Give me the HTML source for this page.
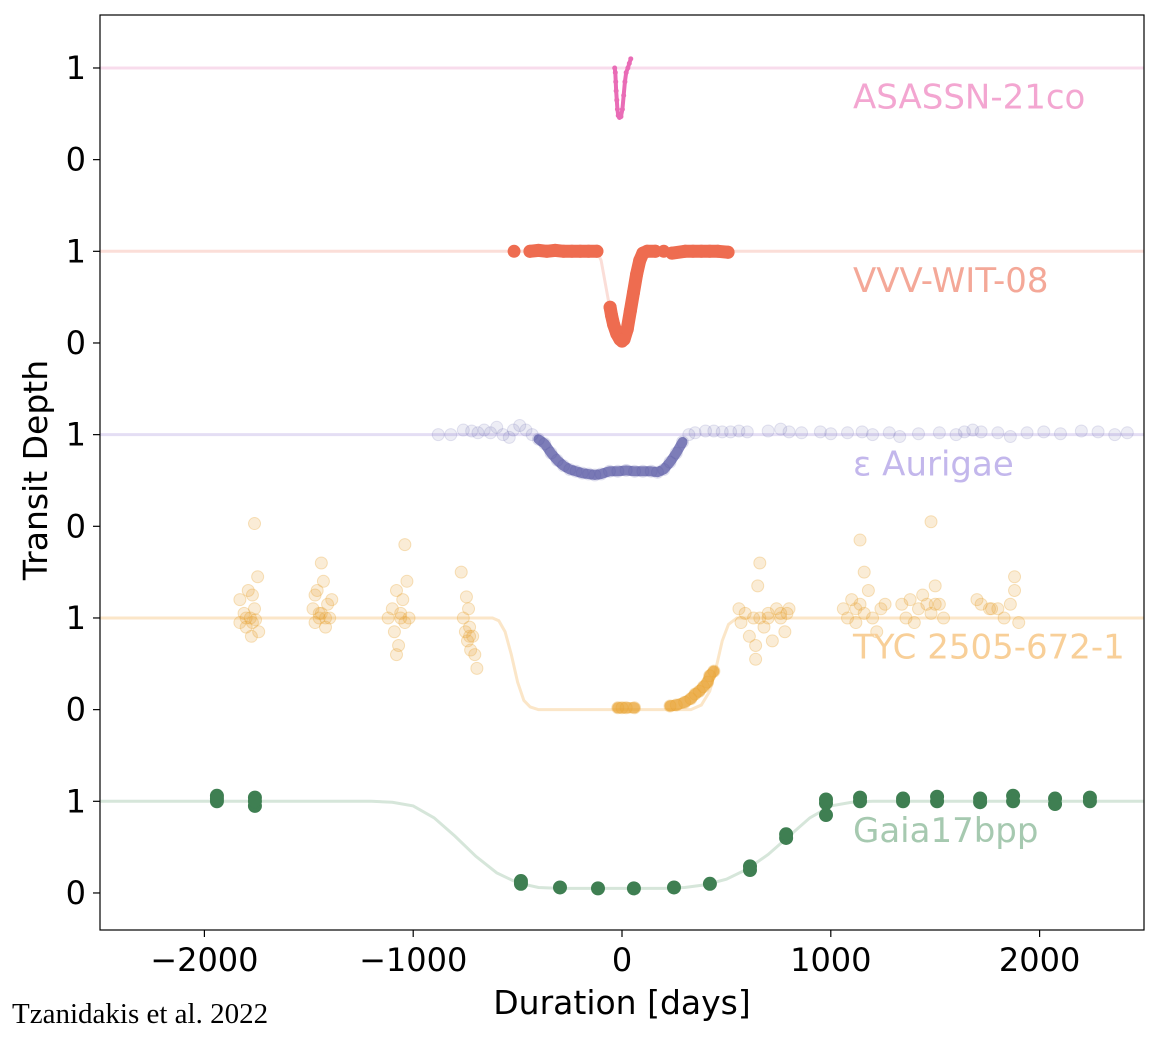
<!DOCTYPE html>
<html><head><meta charset="utf-8"><style>
body{margin:0;background:#fff;}
svg{display:block;font-family:"DejaVu Sans","Liberation Sans",sans-serif;}
</style></head><body>
<svg id="chart" width="1160" height="1040" viewBox="0 0 1160 1040"></svg>
<script>
const xTicks=[-2000,-1000,0,1000,2000];
const xTickLabels=["\u22122000","\u22121000","0","1000","2000"];
const yTickValues=[0,1,2,3,4,5,6,7,8,9];
const yTickLabels=["0","1","0","1","0","1","0","1","0","1"];
const seriesNames=["Gaia17bpp","TYC 2505-672-1","\u03b5 Aurigae","VVV-WIT-08","ASASSN-21co"];
const seriesOffsets=[0,2,4,6,8];
// Gaia17bpp
const gaiaPoints=[[-1940,1.06],[-1940,1.0],[-1940,1.03],[-1758,1.04],[-1758,0.95],[-1758,1.0],[-484,0.13],[-484,0.1],[-297,0.06],[-115,0.05],[57,0.05],[249,0.06],[421,0.1],[613,0.25],[613,0.29],[786,0.6],[786,0.64],[977,0.98],[977,0.85],[977,1.02],[1140,1.04],[1140,1.0],[1346,1.03],[1346,1.0],[1509,1.05],[1509,1.0],[1715,1.03],[1715,0.99],[1873,1.06],[1873,1.0],[2074,1.03],[2074,0.97],[2241,1.04],[2241,1.0]];
const gaiaModel=[[-2500,1],[-1200,1],[-1100,0.99],[-1000,0.95],[-900,0.82],[-800,0.62],[-700,0.4],[-600,0.22],[-500,0.11],[-400,0.06],[-300,0.05],[200,0.05],[300,0.06],[400,0.09],[500,0.15],[600,0.26],[700,0.42],[800,0.62],[900,0.82],[1000,0.95],[1100,0.99],[1200,1],[2500,1]];
// TYC 2505-672-1
const tycPoints=[[-1830,1.2],[-1830,0.95],[-1810,1.05],[-1800,0.9],[-1790,1.3],[-1780,1.0],[-1775,0.8],[-1760,1.1],[-1755,0.98],[-1745,1.45],[-1740,0.85],[-1770,1.25],[-1760,2.03],[-1800,1.0],[-1770,0.95],[-1480,1.1],[-1470,0.95],[-1460,1.3],[-1450,1.0],[-1440,1.05],[-1430,1.4],[-1420,0.9],[-1410,1.15],[-1400,1.0],[-1390,1.2],[-1440,1.6],[-1470,1.25],[-1450,1.05],[-1420,1.0],[-1120,1.0],[-1100,1.1],[-1090,0.85],[-1080,1.3],[-1070,0.7],[-1060,1.05],[-1050,1.2],[-1040,0.95],[-1030,1.4],[-1020,1.0],[-1080,0.6],[-1040,1.8],[-1060,1.0],[-760,1.0],[-750,0.85],[-740,0.75],[-735,1.1],[-730,0.9],[-725,0.65],[-715,0.8],[-705,0.6],[-695,0.45],[-770,1.5],[-745,1.23],[-730,0.8],[-20,0.02],[0,0.02],[20,0.02],[60,0.02],[230,0.04],[260,0.05],[300,0.08],[330,0.12],[350,0.17],[370,0.2],[390,0.25],[410,0.3],[420,0.37],[440,0.42],[560,1.1],[570,0.95],[590,1.05],[610,0.8],[630,1.0],[640,0.7],[650,1.35],[660,1.0],[680,0.9],[700,1.05],[720,0.75],[740,1.1],[760,1.0],[780,0.85],[790,1.05],[800,1.1],[640,0.55],[660,1.6],[700,1.0],[760,1.05],[1060,1.1],[1080,1.0],[1100,1.2],[1120,0.95],[1140,1.15],[1160,1.05],[1180,1.3],[1200,1.0],[1220,0.85],[1240,1.1],[1260,1.15],[1160,1.5],[1140,1.85],[1120,1.1],[1340,1.15],[1360,1.0],[1380,1.2],[1400,0.95],[1420,1.1],[1440,1.25],[1460,1.15],[1480,1.05],[1500,1.35],[1520,1.15],[1540,1.0],[1480,2.05],[1500,1.15],[1700,1.2],[1720,1.15],[1760,1.1],[1800,1.1],[1830,1.0],[1860,1.15],[1880,1.3],[1900,0.95],[1880,1.45],[1770,1.1]];
const tycModel=[[-2500,1],[-620,1],[-590,0.97],[-560,0.85],[-530,0.6],[-500,0.3],[-470,0.1],[-440,0.03],[-400,0],[330,0],[380,0.05],[420,0.2],[450,0.45],[480,0.75],[510,0.93],[550,1],[2500,1]];
// epsilon Aurigae
const epsPoints=[[-880,1.0],[-820,1.0],[-760,1.05],[-720,1.04],[-690,1.02],[-660,1.05],[-630,1.02],[-600,1.08],[-570,1.0],[-540,0.97],[-520,1.05],[-490,1.1],[-460,1.05],[-430,1.0],[-400,0.95],[-370,0.9],[-340,0.8],[-310,0.72],[-280,0.66],[-250,0.62],[-220,0.6],[-190,0.58],[-160,0.57],[-130,0.56],[-100,0.57],[-60,0.6],[-20,0.6],[20,0.61],[60,0.6],[100,0.6],[140,0.6],[170,0.59],[200,0.62],[230,0.7],[260,0.8],[290,0.92],[320,1.0],[350,1.02],[400,1.04],[440,1.04],[480,1.03],[520,1.03],[560,1.04],[600,1.03],[700,1.04],[760,1.06],[800,1.03],[860,1.02],[950,1.03],[1000,1.01],[1080,1.02],[1150,1.03],[1200,1.0],[1280,1.02],[1330,0.98],[1420,1.01],[1520,1.02],[1600,1.0],[1640,1.03],[1680,1.05],[1720,1.03],[1800,1.02],[1860,0.98],[1940,1.02],[2020,1.03],[2100,1.01],[2200,1.04],[2280,1.03],[2360,1.0],[2420,1.02]];
const epsModel=[[-2500,1],[2500,1]];
// VVV-WIT-08
const vvvPoints=[[-517,1.0],[-441,1.0],[-400,1.01],[-360,1.0],[-320,1.01],[-280,1.0],[-240,1.0],[-200,1.0],[-160,1.0],[-120,1.0],[-57,0.39],[-50,0.3],[-40,0.2],[-25,0.1],[-10,0.04],[0,0.02],[10,0.04],[25,0.15],[40,0.35],[55,0.55],[70,0.75],[85,0.9],[100,0.98],[120,1.0],[160,1.0],[200,1.0],[239,0.98],[302,1.0],[340,1.0],[380,1.0],[420,1.0],[460,1.0],[508,0.99]];
const vvvModel=[[-2500,1],[-120,1],[-100,0.9],[-80,0.65],[-60,0.4],[-30,0.12],[0,0.02],[30,0.2],[70,0.75],[110,0.98],[150,1],[2500,1]];
// ASASSN-21co
const asasPoints=[[-35,1.0],[-32,0.95],[-30,0.85],[-28,0.75],[-25,0.65],[-22,0.55],[-18,0.48],[-12,0.46],[-5,0.47],[2,0.55],[8,0.7],[14,0.85],[20,0.95],[28,1.0],[35,1.05],[42,1.1]];
const asasModel=[[-2500,1],[2500,1]];

const SVGNS="http://www.w3.org/2000/svg";
const svg=document.getElementById('chart');
const L=100,R=1144,T=15,B=930,XMIN=-2500,XMAX=2500,YMIN=-0.404,YMAX=9.578;
const X=d=>L+(d-XMIN)/(XMAX-XMIN)*(R-L);
const Y=v=>B-(v-YMIN)/(YMAX-YMIN)*(B-T);
function mk(tag,attrs,parent){const e=document.createElementNS(SVGNS,tag);for(const k in attrs)e.setAttribute(k,attrs[k]);(parent||svg).appendChild(e);return e;}

const plot=mk('g',{});


const clip=mk('clipPath',{id:'pc'});mk('rect',{x:L,y:T,width:R-L,height:B-T},clip);
plot.setAttribute('clip-path','url(#pc)');

function drawModel(model,off,color,name){
  const p=mk('polyline',{points:model.map(q=>X(q[0])+','+Y(q[1]+off)).join(' '),fill:'none',stroke:color,'stroke-width':3},plot);
  
  
}
function drawPoints(pts,off,color,r,op,name){
  const g=mk('g',{},plot);
  
  
  pts.forEach(q=>{const c=mk('circle',{cx:X(q[0]),cy:Y(q[1]+off),r:r,fill:color,'fill-opacity':op,stroke:color,'stroke-opacity':Math.min(1,op*1.5)},g);
    
    });
}
function drawTrail(pts,off,color,w,op,name){
  const p=mk('polyline',{points:pts.map(q=>X(q[0])+','+Y(q[1]+off)).join(' '),fill:'none',stroke:color,'stroke-width':w,'stroke-opacity':op,'stroke-linecap':'round','stroke-linejoin':'round'},plot);
  
  
}
drawModel(gaiaModel,seriesOffsets[0],'#d6e6da','gaia-model-line');
drawModel(tycModel,seriesOffsets[1],'#fbe6c8','tyc-model-line');
drawModel(epsModel,seriesOffsets[2],'#e4def4','eps-aur-model-line');
drawModel(vvvModel,seriesOffsets[3],'#fbded8','vvv-model-line');
drawModel(asasModel,seriesOffsets[4],'#f8dcec','asassn-model-line');

drawPoints(tycPoints,seriesOffsets[1],'#e8a230',6,0.2,'tyc-points');
drawTrail(tycPoints.slice(54,58),seriesOffsets[1],'#e8a230',11,0.7,'tyc-bottom-trail');
drawTrail(tycPoints.slice(58,68),seriesOffsets[1],'#e8a230',11,0.75,'tyc-egress-trail');
drawTrail(epsPoints.slice(14,36),seriesOffsets[2],'#4f4fa0',10,0.7,'eps-aur-dip-trail');
drawPoints(epsPoints,seriesOffsets[2],'#4f4fa0',6,0.1,'eps-aur-points');
drawTrail(vvvPoints.slice(1,10),seriesOffsets[3],'#ee6c50',13,1,'vvv-pre-trail');
drawTrail(vvvPoints.slice(10,25),seriesOffsets[3],'#ee6c50',13,1,'vvv-dip-trail');
drawTrail(vvvPoints.slice(26),seriesOffsets[3],'#ee6c50',13,1,'vvv-post-trail');
drawPoints(vvvPoints,seriesOffsets[3],'#ee6c50',6,1,'vvv-points');
drawTrail(asasPoints,seriesOffsets[4],'#e96cb6',4,1,'asassn-trail');
drawPoints(asasPoints,seriesOffsets[4],'#e96cb6',2,1,'asassn-points');
drawPoints(gaiaPoints,seriesOffsets[0],'#3f7f52',6.5,1,'gaia-points');

const labelColors=['#a6c9b0','#f8cf98','#c3b7ec','#f4a898','#f3a6d1'];
seriesNames.forEach((n,i)=>{
  const t=mk('text',{x:853,y:Y(seriesOffsets[i]+0.6)+4,'font-size':34,fill:labelColors[i]});
  t.textContent=n;
  
  
});
const fr=mk('rect',{x:L,y:T,width:R-L,height:B-T,fill:'none',stroke:'#000','stroke-width':1.2});


xTicks.forEach((v,i)=>{
  mk('line',{x1:X(v),x2:X(v),y1:B,y2:B+7,stroke:'#000','stroke-width':1.2});
  const t=mk('text',{x:X(v),y:B+41,'font-size':32,'text-anchor':'middle',fill:'#000'});
  t.textContent=xTickLabels[i];
  
  
});
yTickValues.forEach((v,i)=>{
  mk('line',{x1:L-7,x2:L,y1:Y(v),y2:Y(v),stroke:'#000','stroke-width':1.2});
  const t=mk('text',{x:L-14,y:Y(v)+11,'font-size':32,'text-anchor':'end',fill:'#000'});
  t.textContent=yTickLabels[i];
  
  
});
const xt=mk('text',{x:622,y:1014,'font-size':33,'text-anchor':'middle',fill:'#000'});
xt.textContent='Duration [days]';


const yt=mk('text',{x:0,y:0,'font-size':33,'text-anchor':'middle',fill:'#000',transform:'translate(47,470) rotate(-90)'});
yt.textContent='Transit Depth';


const cr=mk('text',{x:12,y:1023,'font-size':29,fill:'#000','font-family':'"Liberation Serif",serif'});
cr.textContent='Tzanidakis et al. 2022';


</script>
</body></html>
